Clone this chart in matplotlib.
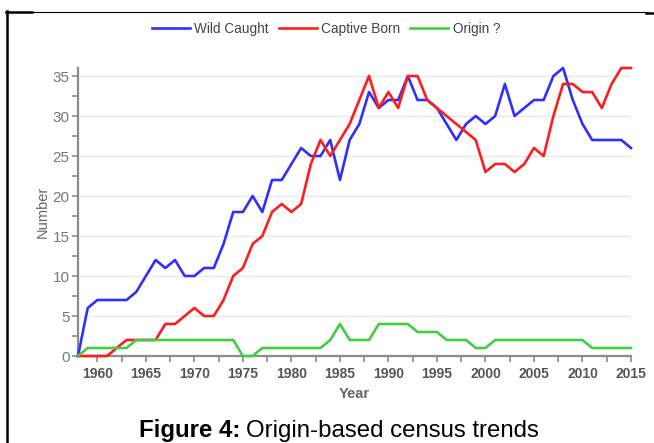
import matplotlib
matplotlib.use('Agg')
import matplotlib.pyplot as plt
from matplotlib.lines import Line2D
from matplotlib.ticker import MultipleLocator

plt.rcParams['font.family'] = ['Liberation Sans', 'DejaVu Sans']

years = list(range(1958, 2016))
wild_caught = [0, 6, 7, 7, 7, 7, 8, 10, 12, 11, 12, 10, 10, 11, 11, 14, 18, 18, 20, 18,
               22, 22, 24, 26, 25, 25, 27, 22, 27, 29, 33, 31, 32, 32, 35, 32, 32, 31,
               29, 27, 29, 30, 29, 30, 34, 30, 31, 32, 32, 35, 36, 32, 29, 27, 27, 27,
               27, 26]
captive_born = [0, 0, 0, 0, 1, 2, 2, 2, 2, 4, 4, 5, 6, 5, 5, 7, 10, 11, 14, 15,
                18, 19, 18, 19, 24, 27, 25, 27, 29, 32, 35, 31, 33, 31, 35, 35, 32, 31,
                30, 29, 28, 27, 23, 24, 24, 23, 24, 26, 25, 30, 34, 34, 33, 33, 31, 34,
                36, 36]
origin_unknown = [0, 1, 1, 1, 1, 1, 2, 2, 2, 2, 2, 2, 2, 2, 2, 2, 2, 0, 0, 1,
                  1, 1, 1, 1, 1, 1, 2, 4, 2, 2, 2, 4, 4, 4, 4, 3, 3, 3, 2, 2,
                  2, 1, 1, 2, 2, 2, 2, 2, 2, 2, 2, 2, 2, 1, 1, 1, 1, 1]
series_names = ['Wild Caught', 'Captive Born', 'Origin ?']
series_colors = ['#2f2fff', '#ff1c1c', '#44cc44']

W, H = 654, 443
fig = plt.figure(figsize=(W / 100, H / 100), dpi=100)
ax = fig.add_axes([78 / W, 87 / H, (631 - 78) / W, (356 - 68) / H])

for vals, name, col in zip([wild_caught, captive_born, origin_unknown], series_names, series_colors):
    ax.plot(years, vals, color=col, lw=1.9, label=name, clip_on=False, zorder=3)

ax.set_xlim(1958, 2015)
ax.set_ylim(0, 36)
ax.xaxis.set_major_locator(MultipleLocator(5))
ax.xaxis.set_minor_locator(MultipleLocator(2.5))
ax.yaxis.set_major_locator(MultipleLocator(5))
ax.yaxis.set_minor_locator(MultipleLocator(2.5))
ax.set_xticks(range(1960, 2016, 5))

axis_grey = '#8c8c8c'
for s in ['top', 'right']:
    ax.spines[s].set_visible(False)
for s in ['left', 'bottom']:
    ax.spines[s].set_color(axis_grey)
    ax.spines[s].set_linewidth(1.6)
ax.tick_params(which='both', color=axis_grey, width=1.2, length=4, direction='out')
ax.tick_params(axis='x', labelsize=10, labelcolor='#555555', pad=4)
ax.tick_params(axis='y', labelsize=11, labelcolor='#777777', pad=2)
for lbl in ax.get_xticklabels():
    lbl.set_fontweight('bold')
ax.grid(axis='y', which='major', color='#e8e8e8', lw=0.9)
ax.set_axisbelow(True)

ax.set_xlabel('Year', fontsize=10.5, fontweight='bold', color='#666666', labelpad=4)
ax.set_ylabel('Number', fontsize=10.5, color='#666666', labelpad=2)

fig.legend(loc='center', bbox_to_anchor=(326 / W, 1 - 29 / H), ncol=3, frameon=False,
           fontsize=9.8, handlelength=2.8, handletextpad=0.35, columnspacing=0.7,
           labelcolor='#444444')

# caption: bold part + regular part, centred together
cap_bold = fig.text(0, 1 - 437 / H, 'Figure 4:', fontsize=17.3, fontweight='bold',
                    color='black', va='baseline')
cap_rest = fig.text(0, 1 - 437 / H, 'Origin-based census trends', fontsize=17.3,
                    color='black', va='baseline')
fig.canvas.draw()
r = fig.canvas.get_renderer()
wb = cap_bold.get_window_extent(r).width
wr = cap_rest.get_window_extent(r).width
gap = 5
x0 = 339 - (wb + gap + wr) / 2
cap_bold.set_x(x0 / W)
cap_rest.set_x((x0 + wb + gap) / W)

# page border
def fline(xs, ys, lw):
    fig.add_artist(Line2D([x / W for x in xs], [1 - y / H for y in ys], color='black', lw=lw))

fline([6.5, 6.5], [11, 443], 1.8)
fline([6, 648], [11.5, 11.5], 0.8)
fline([6, 32], [12, 12], 1.8)
fline([646, 654], [12.5, 12.5], 1.8)

fig.savefig('out.png', dpi=100)
